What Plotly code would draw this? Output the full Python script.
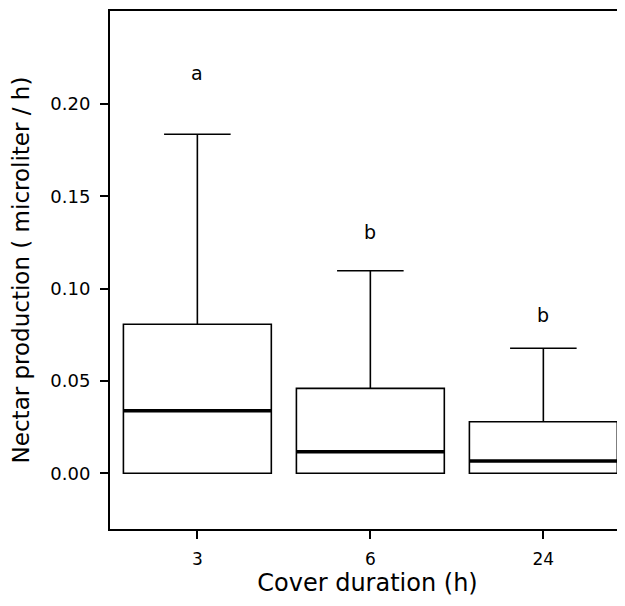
import plotly.graph_objects as go

# Data
categories = ["3", "6", "24"]
q1_vals = [0.0, 0.0, 0.0]
median_vals = [0.0339, 0.0117, 0.0067]
q3_vals = [0.0807, 0.0460, 0.0279]
lower_vals = [0.0, 0.0, 0.0]
upper_vals = [0.1836, 0.1097, 0.0677]
group_letters = ["a", "b", "b"]
letter_y = [0.217, 0.1305, 0.0857]
y_ticks = [0.00, 0.05, 0.10, 0.15, 0.20]

positions = list(range(len(categories)))
box_width = 0.855
FONT = "DejaVu Sans"

fig = go.Figure()
fig.add_trace(go.Box(
    x=positions,
    q1=q1_vals, median=median_vals, q3=q3_vals,
    lowerfence=lower_vals, upperfence=upper_vals,
    width=box_width, whiskerwidth=0.45,
    fillcolor="white",
    line=dict(color="black", width=1.6),
    boxpoints=False, showlegend=False, hoverinfo="skip",
))

# thicker median lines
for p, m in zip(positions, median_vals):
    fig.add_trace(go.Scatter(
        x=[p - box_width / 2, p + box_width / 2], y=[m, m],
        mode="lines", line=dict(color="black", width=3.5),
        showlegend=False, hoverinfo="skip",
    ))

for p, t, yv in zip(positions, group_letters, letter_y):
    fig.add_annotation(x=p, y=yv, text=t, showarrow=False,
                       font=dict(family=FONT, size=19, color="black"),
                       xanchor="center", yanchor="middle")

# page body has an 8px margin, so the figure is offset by (8, 8)
fig.update_layout(
    width=617, height=598,
    margin=dict(l=102, r=0, t=3, b=77, autoexpand=False),
    plot_bgcolor="white", paper_bgcolor="white",
    font=dict(family=FONT, color="black"),
    showlegend=False,
)
fig.update_xaxes(
    range=[-0.505, 2.472],
    tickmode="array", tickvals=positions, ticktext=categories,
    ticks="outside", ticklen=8, tickwidth=2, tickcolor="black",
    showline=True, linecolor="black", linewidth=2, mirror=True,
    showgrid=False, zeroline=False,
    tickfont=dict(family=FONT, size=17, color="black"),
    ticklabelstandoff=6,
    title=dict(text="Cover duration (h)", font=dict(family=FONT, size=24, color="black"), standoff=6),
)
fig.update_yaxes(
    range=[-0.0302, 0.2504],
    tickmode="array", tickvals=y_ticks, ticktext=[f"{v:.2f}" for v in y_ticks],
    ticks="outside", ticklen=8, tickwidth=2, tickcolor="black",
    showline=True, linecolor="black", linewidth=2, mirror=False,
    showgrid=False, zeroline=False,
    tickfont=dict(family=FONT, size=18, color="black"),
    ticklabelstandoff=6,
    title=dict(text="Nectar production ( microliter / h)", font=dict(family=FONT, size=23, color="black"), standoff=14),
)

fig.write_html("out.html")
